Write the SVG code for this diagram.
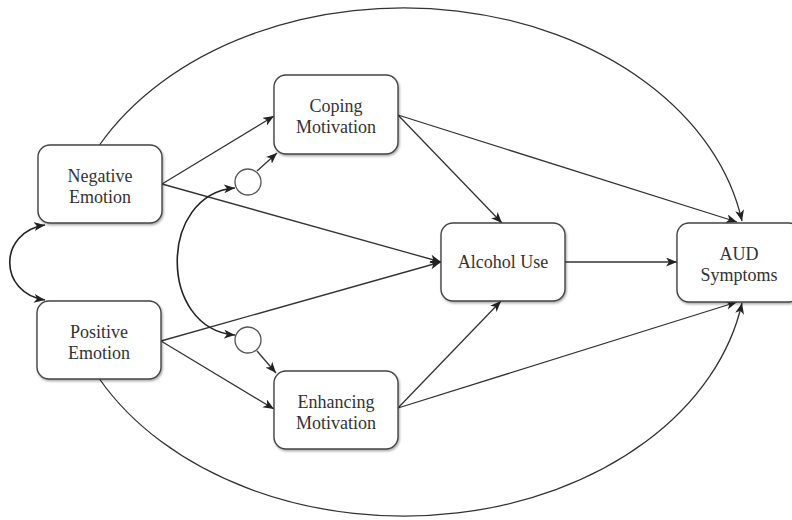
<svg xmlns="http://www.w3.org/2000/svg" width="792" height="520" viewBox="0 0 792 520">
<defs>
<style>
.box{fill:#fff;stroke:#444;stroke-width:1.4;filter:url(#sh)}
.lbl{font-family:"Liberation Serif","Times New Roman",serif;font-size:18px;fill:#333;text-anchor:middle}
.c{fill:none;stroke:#333;stroke-width:1.3;marker-end:url(#ah)}
.d{fill:none;stroke:#222;stroke-width:1.6;marker-end:url(#ah);marker-start:url(#ah)}
.circ{fill:#fff;stroke:#555;stroke-width:1.3}
</style>
<filter id="sh" x="-10%" y="-10%" width="125%" height="130%">
<feDropShadow dx="1" dy="1.5" stdDeviation="1.2" flood-color="#000" flood-opacity="0.35"/>
</filter>
<marker id="ah" markerUnits="userSpaceOnUse" markerWidth="12" markerHeight="10" refX="11" refY="4.5" orient="auto-start-reverse">
<path d="M0,0 L11,4.5 L0,9 L3,4.5 z" fill="#222"/>
</marker>
</defs>
<g id="connectors">
<path class="c" d="M99.5,145 A343,255 0 0 1 742,221"/>
<path class="c" d="M99.5,379 A343,255 0 0 0 742,303"/>
<path class="c" d="M162,184 L274,116"/>
<path class="c" d="M162,184 L441,262"/>
<path class="c" d="M161,341 L441,262"/>
<path class="c" d="M161,341 L274,409"/>
<path class="c" d="M398,115 L502,223"/>
<path class="c" d="M398,115 L737,222"/>
<path class="c" d="M565,262 L677,262"/>
<path class="c" d="M398,408 L501,301"/>
<path class="c" d="M398,408 L737,302"/>
<path class="c" d="M257,171 L277,153"/>
<path class="c" d="M257,351 L276,373"/>
<path class="d" d="M235,188 C158,194 158,329 235,335"/>
<path class="d" d="M45,225 C-2,232 -2,293 45,300"/>
</g>
<g id="circle-coping"><circle class="circ" cx="248" cy="182" r="13"/></g>
<g id="circle-enhancing"><circle class="circ" cx="248" cy="340" r="13"/></g>
<g id="negative-emotion">
<rect class="box" x="38" y="145" width="124" height="78" rx="12"/>
<text class="lbl" x="100" y="182">Negative</text>
<text class="lbl" x="100" y="203">Emotion</text>
</g>
<g id="positive-emotion">
<rect class="box" x="37" y="301" width="124" height="78" rx="12"/>
<text class="lbl" x="99" y="338">Positive</text>
<text class="lbl" x="99" y="359">Emotion</text>
</g>
<g id="coping-motivation">
<rect class="box" x="274" y="75" width="124" height="79" rx="12"/>
<text class="lbl" x="336" y="112">Coping</text>
<text class="lbl" x="336" y="133">Motivation</text>
</g>
<g id="enhancing-motivation">
<rect class="box" x="274" y="371" width="124" height="78" rx="12"/>
<text class="lbl" x="336" y="408">Enhancing</text>
<text class="lbl" x="336" y="429">Motivation</text>
</g>
<g id="alcohol-use">
<rect class="box" x="441" y="223" width="124" height="78" rx="12"/>
<text class="lbl" x="503" y="268">Alcohol Use</text>
</g>
<g id="aud-symptoms">
<rect class="box" x="677" y="223" width="124" height="79" rx="12"/>
<text class="lbl" x="739" y="260">AUD</text>
<text class="lbl" x="739" y="281">Symptoms</text>
</g>
</svg>
